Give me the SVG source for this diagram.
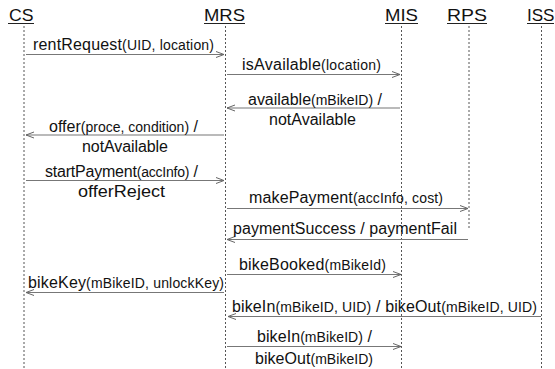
<svg xmlns="http://www.w3.org/2000/svg" width="555" height="369" viewBox="0 0 555 369">
<defs>
<marker id="ah" markerWidth="10" markerHeight="8" refX="9" refY="4" orient="auto" markerUnits="userSpaceOnUse">
<path d="M1,1 L9,4 L1,7" fill="none" stroke="#666" stroke-width="1"/>
</marker>
<style>
text{font-family:"Liberation Sans",Arial,sans-serif;fill:#111;}
.h{font-size:17px;}
.m{font-size:16px;}
.p{font-size:14px;}
.ul{stroke:#222;stroke-width:1;}
.life{stroke:#555;stroke-width:1;stroke-dasharray:2 2;fill:none;}
.msg{stroke:#777;stroke-width:1.2;fill:none;marker-end:url(#ah);}
</style>
</defs>
<rect width="555" height="369" fill="#fff"/>
<g id="CS">
<text class="h" x="9" y="20.5" textLength="24.5" lengthAdjust="spacingAndGlyphs">CS</text>
<line class="ul" x1="8" y1="23.5" x2="34" y2="23.5"/>
<line class="life" x1="24" y1="26" x2="24" y2="369"/>
</g>
<g id="MRS">
<text class="h" x="204" y="20.5" textLength="41" lengthAdjust="spacingAndGlyphs">MRS</text>
<line class="ul" x1="204" y1="23.5" x2="245" y2="23.5"/>
<line class="life" x1="225.5" y1="26" x2="225.5" y2="369"/>
</g>
<g id="MIS">
<text class="h" x="385" y="20.5" textLength="33" lengthAdjust="spacingAndGlyphs">MIS</text>
<line class="ul" x1="385" y1="23.5" x2="418" y2="23.5"/>
<line class="life" x1="401.5" y1="26" x2="401.5" y2="369"/>
</g>
<g id="RPS">
<text class="h" x="447" y="20.5" textLength="40" lengthAdjust="spacingAndGlyphs">RPS</text>
<line class="ul" x1="447" y1="23.5" x2="487" y2="23.5"/>
<line class="life" x1="469" y1="26" x2="469" y2="229"/>
</g>
<g id="ISS">
<text class="h" x="527" y="20.5" textLength="27.5" lengthAdjust="spacingAndGlyphs">ISS</text>
<line class="ul" x1="527" y1="23.5" x2="554" y2="23.5"/>
<line class="life" x1="541.5" y1="26" x2="541.5" y2="369"/>
</g>
<g id="connectors">
<line class="msg" x1="26" y1="54.5" x2="224" y2="54.5"/>
<line class="msg" x1="227" y1="74.5" x2="400" y2="74.5"/>
<line class="msg" x1="400" y1="108" x2="227" y2="108"/>
<line class="msg" x1="224" y1="135" x2="26" y2="135"/>
<line class="msg" x1="26" y1="180.5" x2="224" y2="180.5"/>
<line class="msg" x1="227" y1="208.5" x2="468" y2="208.5"/>
<line class="msg" x1="468" y1="239.5" x2="227" y2="239.5"/>
<line class="msg" x1="227" y1="274.5" x2="401" y2="274.5"/>
<line class="msg" x1="224" y1="292.5" x2="26" y2="292.5"/>
<line class="msg" x1="541" y1="316.5" x2="228" y2="316.5"/>
<line class="msg" x1="227" y1="346.5" x2="401" y2="346.5"/>
</g>
<g id="labels">
<text class="m" x="33" y="49.5" textLength="181" lengthAdjust="spacing">rentRequest<tspan class="p">(UID, location)</tspan></text>
<text class="m" x="242" y="69.5" textLength="139" lengthAdjust="spacing">isAvailable<tspan class="p">(location)</tspan></text>
<text class="m" x="248" y="104.5" textLength="134" lengthAdjust="spacing">available<tspan class="p">(mBikeID)</tspan> /</text>
<text class="m" x="269" y="125" textLength="87" lengthAdjust="spacing">notAvailable</text>
<text class="m" x="49" y="131.5" textLength="149" lengthAdjust="spacing">offer<tspan class="p">(proce, condition)</tspan> /</text>
<text class="m" x="82" y="151.5" textLength="86" lengthAdjust="spacing">notAvailable</text>
<text class="m" x="45" y="176.5" textLength="153" lengthAdjust="spacing">startPayment<tspan class="p">(accInfo)</tspan> /</text>
<text class="m" x="78" y="197" textLength="87" lengthAdjust="spacingAndGlyphs" style="font-size:17px">offerReject</text>
<text class="m" x="249" y="203" textLength="194" lengthAdjust="spacing">makePayment<tspan class="p">(accInfo, cost)</tspan></text>
<text class="m" x="233" y="234" textLength="224" lengthAdjust="spacing">paymentSuccess / paymentFail</text>
<text class="m" x="239" y="269.5" textLength="147" lengthAdjust="spacing">bikeBooked<tspan class="p">(mBikeId)</tspan></text>
<text class="m" x="28" y="287.5" textLength="196" lengthAdjust="spacing">bikeKey<tspan class="p">(mBikeID, unlockKey)</tspan></text>
<text class="m" x="232" y="311.5" textLength="305" lengthAdjust="spacing">bikeIn<tspan class="p">(mBikeID, UID)</tspan> / bikeOut<tspan class="p">(mBikeID, UID)</tspan></text>
<text class="m" x="257" y="341.5" textLength="115" lengthAdjust="spacing">bikeIn<tspan class="p">(mBikeID)</tspan> /</text>
<text class="m" x="255" y="364" textLength="118" lengthAdjust="spacing">bikeOut<tspan class="p">(mBikeID)</tspan></text>
</g>
</svg>
